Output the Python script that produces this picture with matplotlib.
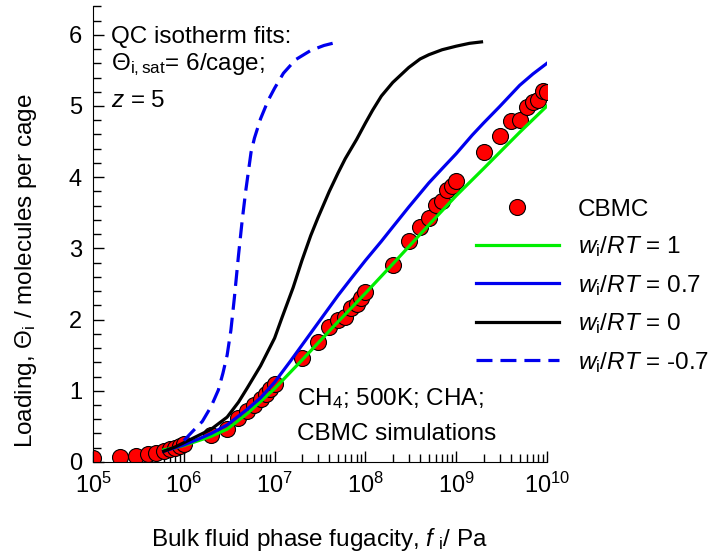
import matplotlib
matplotlib.use("Agg")
import matplotlib.pyplot as plt
from matplotlib.ticker import LogLocator, FixedLocator, NullFormatter

plt.rcParams['font.family'] = ['Liberation Sans', 'DejaVu Sans']
plt.rcParams['mathtext.fontset'] = 'custom'
plt.rcParams['mathtext.rm'] = 'Liberation Sans'
plt.rcParams['mathtext.it'] = 'Liberation Sans:italic'

# CBMC simulation data, CH4 in CHA at 500 K
cbmc_f = [1e5, 2e5, 3e5, 4e5, 5e5, 6e5, 7e5, 8e5, 9e5, 1e6,
          2e6, 3e6, 4e6, 5e6, 6e6, 7e6, 8e6, 9e6, 1e7,
          2e7, 3e7, 4e7, 5e7, 6e7, 7e7, 8e7, 9e7, 1e8,
          2e8, 3e8, 4e8, 5e8, 6e8, 7e8, 8e8, 9e8, 1e9,
          2e9, 3e9, 4e9, 5e9, 6e9, 7e9, 8e9, 9e9, 1e10]
cbmc_q = [0.05, 0.07, 0.08, 0.11, 0.13, 0.16, 0.18, 0.20, 0.22, 0.25,
          0.38, 0.47, 0.62, 0.72, 0.80, 0.88, 0.95, 1.03, 1.10,
          1.46, 1.69, 1.90, 1.99, 2.04, 2.16, 2.22, 2.30, 2.39,
          2.77, 3.11, 3.30, 3.43, 3.61, 3.67, 3.82, 3.88, 3.94,
          4.36, 4.58, 4.79, 4.80, 4.99, 5.06, 5.09, 5.21, 5.19]

# QC isotherm fits
fit1_f = [6e5, 8e5, 1e6, 2e6, 3e6, 5e6, 1e7, 2e7, 5e7, 1e8, 2e8, 5e8, 1e9, 2e9, 5e9, 1e10]
fit1_q = [0.17, 0.20, 0.23, 0.36, 0.46, 0.68, 1.03, 1.43, 1.97, 2.37, 2.78, 3.33, 3.74, 4.12, 4.63, 5.00]

fit07_f = [6e5, 8e5, 1e6, 1.5e6, 2e6, 3e6, 5e6, 7e6, 1e7, 1.5e7, 2e7, 3e7, 5e7, 7e7,
           1e8, 1.5e8, 2e8, 3e8, 5e8, 7e8, 1e9, 1.5e9, 2e9, 3e9, 5e9, 7e9, 1e10]
fit07_q = [0.15, 0.20, 0.24, 0.33, 0.40, 0.52, 0.74, 0.90, 1.12, 1.42, 1.64, 1.95, 2.34, 2.58,
           2.83, 3.10, 3.30, 3.58, 3.92, 4.12, 4.33, 4.59, 4.76, 4.99, 5.29, 5.45, 5.60]

fit0_f = [6e5, 8e5, 1e6, 2e6, 3e6, 4e6, 5e6, 7e6, 1e7, 1.2e7, 1.6e7, 2e7, 2.5e7, 3e7, 4e7,
          5e7, 6e7, 8e7, 1e8, 1.2e8, 1.5e8, 2e8, 3e8, 4e8, 5e8, 7e8, 1e9, 1.4e9, 1.9e9]
fit0_q = [0.15, 0.21, 0.27, 0.46, 0.63, 0.84, 1.04, 1.35, 1.74, 2.02, 2.45, 2.83, 3.18, 3.43, 3.80,
          4.06, 4.26, 4.53, 4.76, 4.94, 5.14, 5.33, 5.54, 5.66, 5.72, 5.79, 5.84, 5.88, 5.90]

fitm07_f = [1e6, 1.25e6, 1.6e6, 2e6, 2.4e6, 2.7e6, 3e6, 3.3e6, 3.6e6, 4e6, 4.4e6, 4.8e6,
            5.5e6, 6e6, 7e6, 8.5e6, 1e7, 1.25e7, 1.7e7, 2.5e7, 3.5e7, 5e7]
fitm07_q = [0.30, 0.43, 0.57, 0.78, 1.01, 1.25, 1.50, 1.85, 2.30, 2.90, 3.40, 3.80,
            4.35, 4.55, 4.82, 5.08, 5.25, 5.46, 5.65, 5.78, 5.85, 5.90]

fig = plt.figure(figsize=(7.09, 5.53), dpi=100)
ax = fig.add_axes([0.1312, 0.1646, 0.6403, 0.824])

fs = 17.5
ax.plot(cbmc_f, cbmc_q, 'o', ms=11.5, mfc='red', mec='black', mew=0.8,
        label='CBMC', zorder=2)
ax.plot(fit1_f, fit1_q, color='#00ee00', lw=2.3, label=r'$w_{\rm i}/RT$ = 1', zorder=3)
ax.plot(fit07_f, fit07_q, color='#0000ee', lw=2.3, label=r'$w_{\rm i}/RT$ = 0.7', zorder=3)
ax.plot(fit0_f, fit0_q, color='black', lw=2.3, label=r'$w_{\rm i}/RT$ = 0', zorder=3)
ax.plot(fitm07_f, fitm07_q, color='#0000ee', lw=2.3, dashes=(5, 2.5),
        label=r'$w_{\rm i}/RT$ = -0.7', zorder=3)

ax.set_xscale('log')
ax.set_xlim(1e5, 1e10)
ax.set_ylim(0, 6.4)

ax.spines['top'].set_visible(False)
ax.spines['right'].set_visible(False)
ax.xaxis.set_major_locator(LogLocator(base=10, numticks=10))
ax.xaxis.set_minor_locator(LogLocator(base=10, subs=range(2, 10), numticks=10))
ax.xaxis.set_minor_formatter(NullFormatter())
ax.yaxis.set_major_locator(FixedLocator([0, 1, 2, 3, 4, 5, 6]))
ax.yaxis.set_minor_locator(FixedLocator([i * 0.2 for i in range(33)]))
ax.tick_params(which='both', direction='in', labelsize=17, width=1)
ax.tick_params(which='major', length=8, pad=8)
ax.tick_params(which='minor', length=6)

ax.set_xlabel(r'Bulk fluid phase fugacity, $f\;_{\rm i}$/ Pa', fontsize=fs, labelpad=20)
ax.set_ylabel(r'Loading, Θ$_{\rm i}$ / molecules per cage', fontsize=fs)
ax.yaxis.set_label_coords(-0.12, 0.42)

ax.text(0.04, 0.919, 'QC isotherm fits:', transform=ax.transAxes, fontsize=fs, va='baseline')
ax.text(0.04, 0.860, r'Θ$_{\rm i,sat}$= 6/cage;', transform=ax.transAxes, fontsize=fs, va='baseline')
ax.text(0.04, 0.779, r'$z$ = 5', transform=ax.transAxes, fontsize=fs, va='baseline')
ax.text(0.449, 0.125, r'CH$_4$; 500K; CHA;', transform=ax.transAxes, fontsize=fs, va='baseline')
ax.text(0.449, 0.048, 'CBMC simulations', transform=ax.transAxes, fontsize=fs, va='baseline')

ax.legend(loc='center left', bbox_to_anchor=(0.822, 0.385), frameon=False, fontsize=fs,
          handlelength=3.4, handletextpad=0.78, labelspacing=0.56, borderaxespad=0)

fig.savefig('out.png', dpi=100)
